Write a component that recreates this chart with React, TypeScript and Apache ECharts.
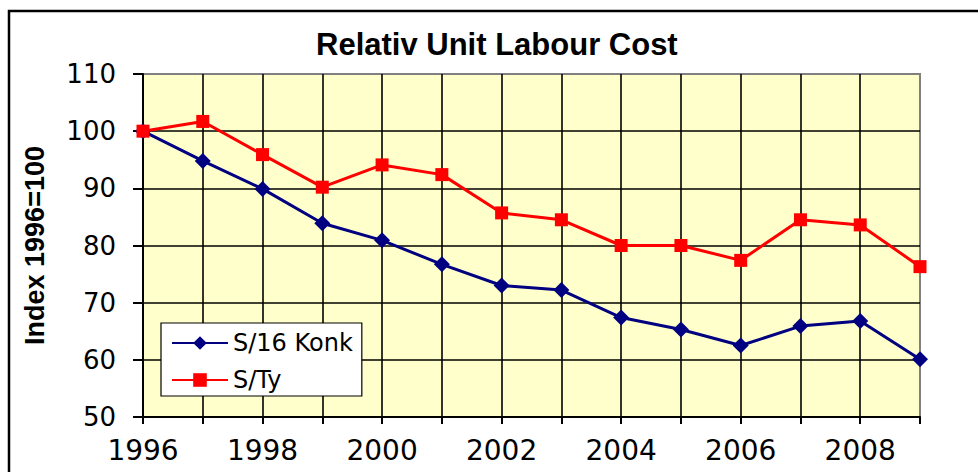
import React, { useEffect, useRef } from "react";
import * as echarts from "echarts";

const years = ["1996","1997","1998","1999","2000","2001","2002","2003","2004","2005","2006","2007","2008","2009"];
const konk = [100, 94.8, 89.9, 83.9, 80.9, 76.7, 73.0, 72.2, 67.4, 65.3, 62.5, 65.9, 66.8, 60.1];
const sty = [100, 101.7, 95.9, 90.2, 94.1, 92.4, 85.7, 84.5, 80.0, 80.0, 77.4, 84.5, 83.6, 76.3];
const seriesNames = ["S/16 Konk", "S/Ty"];
const titleText = "Relativ Unit Labour Cost";
const yName = "Index 1996=100";

export default function App() {
  const ref = useRef<HTMLDivElement>(null);
  useEffect(() => {
    const chart = echarts.init(ref.current!, null, { renderer: "svg" });
    const sans = "'Liberation Sans', Arial, sans-serif";
    const wide = "'DejaVu Sans', Verdana, sans-serif";
    chart.setOption({
      animation: false,
      backgroundColor: "#ffffff",
      title: {
        text: titleText,
        left: 311,
        top: 24,
        textStyle: { fontFamily: sans, fontWeight: "bold", fontSize: 31, color: "#000" },
      },
      graphic: [
        {
          type: "rect",
          shape: { x: 9, y: 11, width: 1100, height: 600 },
          style: { fill: "none", stroke: "#000", lineWidth: 2.5 },
          silent: true,
        },
      ],
      legend: {
        orient: "vertical",
        left: 161,
        top: 323,
        padding: [8, 9, 4, 10],
        itemGap: 13,
        itemWidth: 56,
        itemHeight: 17,
        backgroundColor: "#ffffff",
        borderColor: "#000",
        borderWidth: 1.2,
        textStyle: { fontFamily: wide, fontSize: 24, color: "#000", lineHeight: 24 },
        data: seriesNames,
      },
      grid: {
        left: 143,
        top: 74,
        right: 58,
        bottom: 55,
        show: true,
        backgroundColor: "#FFFFCC",
        borderColor: "#808080",
        borderWidth: 2,
      },
      xAxis: {
        type: "category",
        data: years,
        boundaryGap: false,
        axisLine: { lineStyle: { color: "#000", width: 2 } },
        axisTick: { show: true, interval: 0, length: 7, lineStyle: { color: "#000", width: 2 } },
        axisLabel: { interval: 1, margin: 19, fontFamily: wide, fontSize: 28, color: "#000" },
        splitLine: { show: true, interval: 0, showMaxLine: false, showMinLine: false, lineStyle: { color: "#000", width: 1.6 } },
      },
      yAxis: {
        type: "value",
        min: 50,
        max: 110,
        interval: 10,
        name: yName,
        nameLocation: "middle",
        nameRotate: 90,
        nameGap: 95,
        nameTextStyle: { fontFamily: sans, fontWeight: "bold", fontSize: 27, color: "#000" },
        axisLine: { show: true, lineStyle: { color: "#000", width: 2 } },
        axisTick: { show: true, length: 10, lineStyle: { color: "#000", width: 2 } },
        axisLabel: { margin: 27, fontFamily: wide, fontSize: 26, color: "#000" },
        splitLine: { show: true, showMaxLine: false, showMinLine: false, lineStyle: { color: "#000", width: 1.6 } },
      },
      series: [
        {
          name: seriesNames[0],
          type: "line",
          data: konk,
          symbol: "diamond",
          symbolSize: 16,
          color: "#000080",
          lineStyle: { color: "#000080", width: 3 },
          itemStyle: { color: "#000080" },
          z: 3,
        },
        {
          name: seriesNames[1],
          type: "line",
          data: sty,
          symbol: "rect",
          symbolSize: 13,
          color: "#FF0000",
          lineStyle: { color: "#FF0000", width: 3 },
          itemStyle: { color: "#FF0000" },
          z: 4,
        },
      ],
    });
    return () => chart.dispose();
  }, []);
  return (
    <div
      ref={ref}
      style={{ position: "fixed", left: 0, top: 0, width: 978, height: 472 }}
    />
  );
}
